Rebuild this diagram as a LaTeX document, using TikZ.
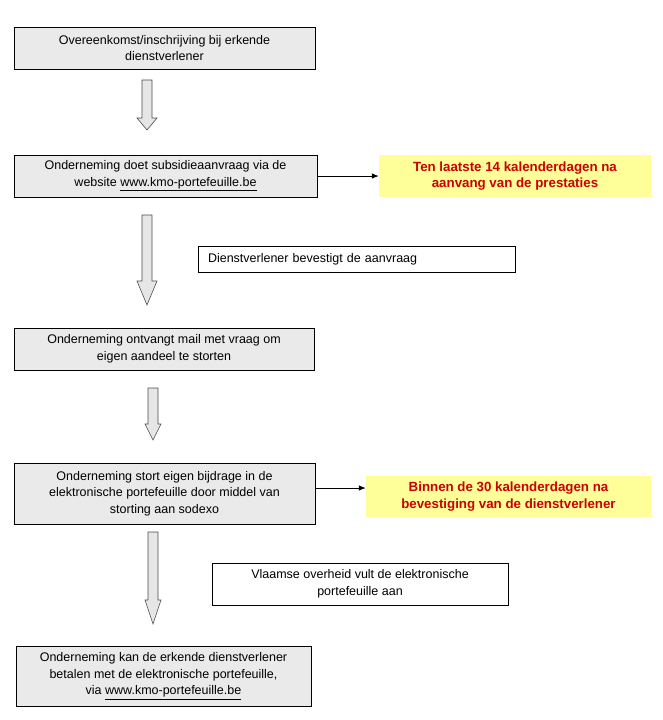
\documentclass[tikz,border=0pt]{standalone}
\usepackage{fontspec}
\usetikzlibrary{arrows.meta}
\setmainfont{Liberation Sans}
\definecolor{boxgray}{HTML}{EAEAEA}
\definecolor{arrowgray}{HTML}{E6E6E6}
\definecolor{paleyellow}{HTML}{FFFF99}
\definecolor{darkred}{HTML}{CC0000}
\begin{document}
\begin{tikzpicture}[x=1pt,y=-1pt,
  stepbox/.style={draw=black, line width=0.8pt, fill=boxgray, align=center, inner sep=0pt,
    font=\fontsize{12.5}{16.5}\selectfont},
  notebox/.style={draw=black, line width=0.8pt, fill=white, inner sep=0pt,
    font=\fontsize{12.5}{16.5}\selectfont},
  deadline/.style={fill=paleyellow, align=center, inner sep=0pt, text=darkred,
    font=\fontsize{13.3}{16.5}\selectfont\bfseries},
  blockarrow/.style={draw=black!70, line width=0.6pt, fill=arrowgray},
  thinarrow/.style={draw=black, line width=0.8pt, -{Latex[length=7pt,width=5.5pt]}}
]
\useasboundingbox (0,0) rectangle (662,720);

\node[stepbox, minimum width=301pt, minimum height=42pt] (b1) at (164.5,48)
  {Overeenkomst/inschrijving bij erkende\\dienstverlener};
\node[stepbox, minimum width=303pt, minimum height=42pt] (b2) at (165.5,176)
  {Onderneming doet subsidieaanvraag via de\\website \underline{www.kmo-portefeuille.be}};
\node[deadline, minimum width=272pt, minimum height=42pt] (y1) at (515,176)
  {Ten laatste 14 kalenderdagen na\\aanvang van de prestaties};
\node[notebox, minimum width=317pt, minimum height=26pt, text width=297pt, align=left] (c1) at (356.5,259)
  {Dienstverlener bevestigt de aanvraag};
\node[stepbox, minimum width=300pt, minimum height=42pt] (b3) at (164,349)
  {Onderneming ontvangt mail met vraag om\\eigen aandeel te storten};
\node[stepbox, minimum width=301pt, minimum height=61pt] (b4) at (164.5,493.5)
  {Onderneming stort eigen bijdrage in de\\elektronische portefeuille door middel van\\storting aan sodexo};
\node[deadline, minimum width=285pt, minimum height=41pt] (y2) at (508.5,496.5)
  {Binnen de 30 kalenderdagen na\\bevestiging van de dienstverlener};
\node[notebox, minimum width=296pt, minimum height=42pt, align=center] (c2) at (360,584)
  {Vlaamse overheid vult de elektronische\\portefeuille aan};
\node[stepbox, minimum width=295pt, minimum height=60pt] (b5) at (163.5,676)
  {Onderneming kan de erkende dienstverlener\\betalen met de elektronische portefeuille,\\via \underline{www.kmo-portefeuille.be}};

\draw[thinarrow] (b2.east) -- (y1.west);
\draw[thinarrow] (b4.east |- 0,488) -- (y2.west |- 0,488);

% block arrows
\draw[blockarrow] (142,80) -- (152,80) -- (152,118) -- (157,118) -- (147,130) -- (137,118) -- (142,118) -- cycle;
\draw[blockarrow] (142,215) -- (152,215) -- (152,281) -- (157,281) -- (147,305) -- (137,281) -- (142,281) -- cycle;
\draw[blockarrow] (148,388) -- (158,388) -- (158,424) -- (161,424) -- (153,440) -- (145,424) -- (148,424) -- cycle;
\draw[blockarrow] (148,532) -- (158,532) -- (158,600) -- (161,600) -- (153,624) -- (145,600) -- (148,600) -- cycle;
\end{tikzpicture}
\end{document}
